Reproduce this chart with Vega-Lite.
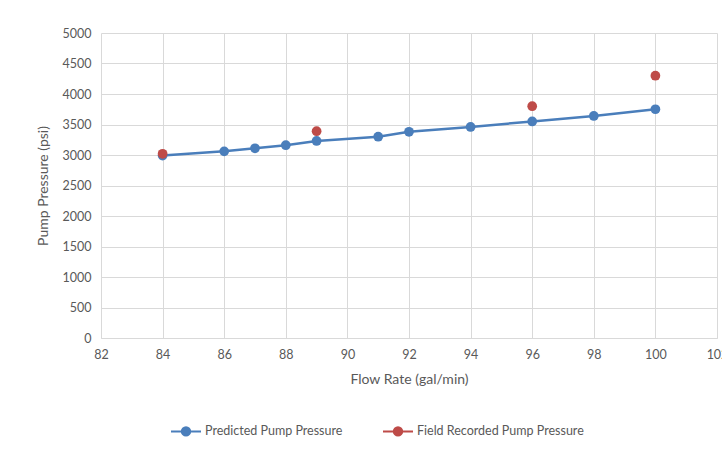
{
  "$schema": "https://vega.github.io/schema/vega-lite/v6.json",
  "autosize": "none",
  "width": 616,
  "height": 305,
  "padding": {"left": 101, "top": 33, "right": 5, "bottom": 113},
  "background": "white",
  "config": {
    "view": {"stroke": null},
    "font": "Lato",
    "axis": {
      "labelFont": "Lato",
      "titleFont": "Lato",
      "labelColor": "#595959",
      "titleColor": "#595959",
      "labelFontSize": 12.5,
      "titleFontSize": 14,
      "titleFontWeight": "normal",
      "gridColor": "#d9d9d9",
      "gridWidth": 1,
      "ticks": false
    },
    "legend": {
      "labelFont": "Lato",
      "labelColor": "#595959",
      "labelFontSize": 12.5
    }
  },
  "data": {
    "values": [
      {"flow": 84, "pressure": 2990, "series": "Predicted Pump Pressure"},
      {"flow": 86, "pressure": 3060, "series": "Predicted Pump Pressure"},
      {"flow": 87, "pressure": 3110, "series": "Predicted Pump Pressure"},
      {"flow": 88, "pressure": 3160, "series": "Predicted Pump Pressure"},
      {"flow": 89, "pressure": 3230, "series": "Predicted Pump Pressure"},
      {"flow": 91, "pressure": 3300, "series": "Predicted Pump Pressure"},
      {"flow": 92, "pressure": 3380, "series": "Predicted Pump Pressure"},
      {"flow": 94, "pressure": 3460, "series": "Predicted Pump Pressure"},
      {"flow": 96, "pressure": 3550, "series": "Predicted Pump Pressure"},
      {"flow": 98, "pressure": 3640, "series": "Predicted Pump Pressure"},
      {"flow": 100, "pressure": 3750, "series": "Predicted Pump Pressure"},
      {"flow": 84, "pressure": 3020, "series": "Field Recorded Pump Pressure"},
      {"flow": 89, "pressure": 3390, "series": "Field Recorded Pump Pressure"},
      {"flow": 96, "pressure": 3800, "series": "Field Recorded Pump Pressure"},
      {"flow": 100, "pressure": 4300, "series": "Field Recorded Pump Pressure"}
    ]
  },
  "encoding": {
    "x": {
      "field": "flow",
      "type": "quantitative",
      "scale": {"domain": [82, 102], "nice": false, "zero": false},
      "axis": {
        "title": "Flow Rate (gal/min)",
        "values": [82, 84, 86, 88, 90, 92, 94, 96, 98, 100, 102],
        "labelPadding": 10,
        "titlePadding": 12,
        "domainColor": "#d9d9d9",
        "labelFlush": false
      }
    },
    "y": {
      "field": "pressure",
      "type": "quantitative",
      "scale": {"domain": [0, 5000], "nice": false},
      "axis": {
        "title": "Pump  Pressure (psi)",
        "values": [0, 500, 1000, 1500, 2000, 2500, 3000, 3500, 4000, 4500, 5000],
        "format": "d",
        "labelPadding": 10,
        "titlePadding": 12,
        "domain": false
      }
    },
    "color": {
      "field": "series",
      "type": "nominal",
      "scale": {
        "domain": ["Predicted Pump Pressure", "Field Recorded Pump Pressure"],
        "range": ["#4a7ebb", "#be4b48"]
      },
      "legend": {
        "title": null,
        "orient": "none",
        "direction": "horizontal",
        "legendX": 69,
        "legendY": 382,
        "symbolType": "M-1,0H1M0.28,0A0.28,0.28,0,1,1,-0.28,0A0.28,0.28,0,1,1,0.28,0Z",
        "symbolSize": 900,
        "symbolStrokeWidth": 2,
        "labelOffset": 3,
        "labelLimit": 400,
        "columnPadding": 36,
        "encode": {
          "symbols": {
            "update": {
              "stroke": {"scale": "color", "field": "value"},
              "fill": {"scale": "color", "field": "value"},
              "opacity": {"value": 1}
            }
          }
        }
      }
    }
  },
  "layer": [
    {
      "transform": [{"filter": "datum.series === 'Predicted Pump Pressure'"}],
      "mark": {"type": "line", "strokeWidth": 2.5}
    },
    {
      "mark": {"type": "point", "filled": true, "size": 95, "opacity": 1}
    }
  ]
}
